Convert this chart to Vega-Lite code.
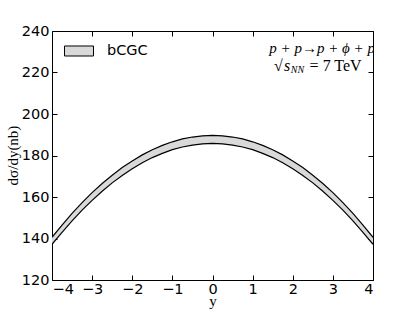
{
  "$schema": "https://vega.github.io/schema/vega-lite/v6.json",
  "width": 321,
  "height": 249,
  "autosize": "none",
  "padding": {"left": 52, "top": 31, "right": 42, "bottom": 32},
  "background": "white",
  "config": {
    "view": {"stroke": "black", "strokeWidth": 1},
    "axis": {
      "grid": false,
      "domain": false,
      "ticks": true,
      "tickColor": "black",
      "tickSize": -5,
      "tickWidth": 1,
      "labelFont": "DejaVu Sans",
      "labelFontSize": 14.5,
      "labelColor": "black",
      "titleFont": "Liberation Serif",
      "titleFontSize": 15,
      "titleFontWeight": "normal",
      "titleColor": "black"
    }
  },
  "datasets": {
    "band": [
      {"x": -4.0, "lo": 137.2, "hi": 140.6, "series": "bCGC"},
      {"x": -3.75, "lo": 143.0, "hi": 146.5, "series": "bCGC"},
      {"x": -3.5, "lo": 148.5, "hi": 152.1, "series": "bCGC"},
      {"x": -3.25, "lo": 153.7, "hi": 157.3, "series": "bCGC"},
      {"x": -3.0, "lo": 158.4, "hi": 162.1, "series": "bCGC"},
      {"x": -2.75, "lo": 162.8, "hi": 166.5, "series": "bCGC"},
      {"x": -2.5, "lo": 166.8, "hi": 170.5, "series": "bCGC"},
      {"x": -2.25, "lo": 170.4, "hi": 174.2, "series": "bCGC"},
      {"x": -2.0, "lo": 173.6, "hi": 177.4, "series": "bCGC"},
      {"x": -1.75, "lo": 176.5, "hi": 180.3, "series": "bCGC"},
      {"x": -1.5, "lo": 179.0, "hi": 182.8, "series": "bCGC"},
      {"x": -1.25, "lo": 181.0, "hi": 184.9, "series": "bCGC"},
      {"x": -1.0, "lo": 182.8, "hi": 186.6, "series": "bCGC"},
      {"x": -0.75, "lo": 184.1, "hi": 188.0, "series": "bCGC"},
      {"x": -0.5, "lo": 185.0, "hi": 188.9, "series": "bCGC"},
      {"x": -0.25, "lo": 185.6, "hi": 189.5, "series": "bCGC"},
      {"x": 0.0, "lo": 185.8, "hi": 189.7, "series": "bCGC"},
      {"x": 0.25, "lo": 185.6, "hi": 189.5, "series": "bCGC"},
      {"x": 0.5, "lo": 185.0, "hi": 188.9, "series": "bCGC"},
      {"x": 0.75, "lo": 184.1, "hi": 188.0, "series": "bCGC"},
      {"x": 1.0, "lo": 182.8, "hi": 186.6, "series": "bCGC"},
      {"x": 1.25, "lo": 181.0, "hi": 184.9, "series": "bCGC"},
      {"x": 1.5, "lo": 179.0, "hi": 182.8, "series": "bCGC"},
      {"x": 1.75, "lo": 176.5, "hi": 180.3, "series": "bCGC"},
      {"x": 2.0, "lo": 173.6, "hi": 177.4, "series": "bCGC"},
      {"x": 2.25, "lo": 170.4, "hi": 174.2, "series": "bCGC"},
      {"x": 2.5, "lo": 166.8, "hi": 170.5, "series": "bCGC"},
      {"x": 2.75, "lo": 162.8, "hi": 166.5, "series": "bCGC"},
      {"x": 3.0, "lo": 158.4, "hi": 162.1, "series": "bCGC"},
      {"x": 3.25, "lo": 153.7, "hi": 157.3, "series": "bCGC"},
      {"x": 3.5, "lo": 148.5, "hi": 152.1, "series": "bCGC"},
      {"x": 3.75, "lo": 143.0, "hi": 146.5, "series": "bCGC"},
      {"x": 4.0, "lo": 137.2, "hi": 140.6, "series": "bCGC"}
    ],
    "notes": [
      {"x": 4.05, "y": 229.6, "label": "p + p→p + ϕ + p", "kind": "italic"},
      {"x": 1.53, "y": 220.5, "label": "√", "kind": "plain"},
      {"x": 1.78, "y": 220.5, "label": "s", "kind": "italic"},
      {"x": 1.95, "y": 219.6, "label": "NN", "kind": "sub"},
      {"x": 2.42, "y": 220.5, "label": "= 7 TeV", "kind": "plain"}
    ]
  },
  "layer": [
    {
      "data": {"name": "band"},
      "mark": {"type": "area", "opacity": 1, "clip": true},
      "encoding": {
        "x": {
          "field": "x", "type": "quantitative",
          "scale": {"domain": [-4, 4], "nice": false, "zero": false},
          "axis": {"orient": "bottom", "values": [-4, -3, -2, -1, 0, 1, 2, 3, 4], "title": "y", "labelPadding": 7, "titleY": 25, "titleBaseline": "alphabetic"}
        },
        "y": {
          "field": "lo", "type": "quantitative",
          "scale": {"domain": [120, 240], "nice": false, "zero": false},
          "axis": {"orient": "left", "values": [120, 140, 160, 180, 200, 220, 240], "title": "dσ/dy(nb)", "labelPadding": 8, "titleX": -40, "titleY": 124, "titleAngle": 270, "titleBaseline": "middle", "titleAlign": "center"}
        },
        "y2": {"field": "hi"},
        "color": {
          "field": "series", "type": "nominal",
          "scale": {"range": ["#d9d9d9"]},
          "legend": {
            "orient": "none", "legendX": 12, "legendY": 5, "title": null, "padding": 0,
            "symbolType": "M-1,-0.345L1,-0.345L1,0.345L-1,0.345Z",
            "symbolSize": 841, "symbolStrokeColor": "black", "symbolStrokeWidth": 1, "symbolOpacity": 1,
            "labelFont": "DejaVu Sans", "labelFontSize": 14.5, "labelColor": "black", "labelOffset": 13
          }
        }
      }
    },
    {
      "data": {"name": "band"},
      "mark": {"type": "line", "color": "black", "strokeWidth": 1.2, "clip": true},
      "encoding": {
        "x": {"field": "x", "type": "quantitative", "axis": null},
        "y": {"field": "hi", "type": "quantitative", "axis": null}
      }
    },
    {
      "data": {"name": "band"},
      "mark": {"type": "line", "color": "black", "strokeWidth": 1.2, "clip": true},
      "encoding": {
        "x": {"field": "x", "type": "quantitative", "axis": {"orient": "top", "values": [-4, -3, -2, -1, 0, 1, 2, 3, 4], "labels": false, "title": null}},
        "y": {"field": "lo", "type": "quantitative", "axis": {"orient": "right", "values": [120, 140, 160, 180, 200, 220, 240], "labels": false, "title": null}}
      }
    },
    {
      "data": {"name": "notes"},
      "transform": [{"filter": "datum.kind === 'italic' && datum.x > 3"}],
      "mark": {"type": "text", "font": "Liberation Serif", "fontStyle": "italic", "fontSize": 15, "align": "right", "baseline": "alphabetic", "color": "black", "clip": true},
      "encoding": {
        "x": {"field": "x", "type": "quantitative", "axis": null},
        "y": {"field": "y", "type": "quantitative", "axis": null},
        "text": {"field": "label"}
      }
    },
    {
      "data": {"name": "notes"},
      "transform": [{"filter": "datum.kind === 'italic' && datum.x < 3"}],
      "mark": {"type": "text", "font": "Liberation Serif", "fontStyle": "italic", "fontSize": 16, "align": "left", "baseline": "alphabetic", "color": "black"},
      "encoding": {
        "x": {"field": "x", "type": "quantitative", "axis": null},
        "y": {"field": "y", "type": "quantitative", "axis": null},
        "text": {"field": "label"}
      }
    },
    {
      "data": {"name": "notes"},
      "transform": [{"filter": "datum.kind === 'plain'"}],
      "mark": {"type": "text", "font": "Liberation Serif", "fontSize": 16, "align": "left", "baseline": "alphabetic", "color": "black"},
      "encoding": {
        "x": {"field": "x", "type": "quantitative", "axis": null},
        "y": {"field": "y", "type": "quantitative", "axis": null},
        "text": {"field": "label"}
      }
    },
    {
      "data": {"name": "notes"},
      "transform": [{"filter": "datum.kind === 'sub'"}],
      "mark": {"type": "text", "font": "Liberation Serif", "fontStyle": "italic", "fontSize": 10, "align": "left", "baseline": "alphabetic", "color": "black"},
      "encoding": {
        "x": {"field": "x", "type": "quantitative", "axis": null},
        "y": {"field": "y", "type": "quantitative", "axis": null},
        "text": {"field": "label"}
      }
    }
  ],
  "resolve": {"axis": {"x": "independent", "y": "independent"}}
}
